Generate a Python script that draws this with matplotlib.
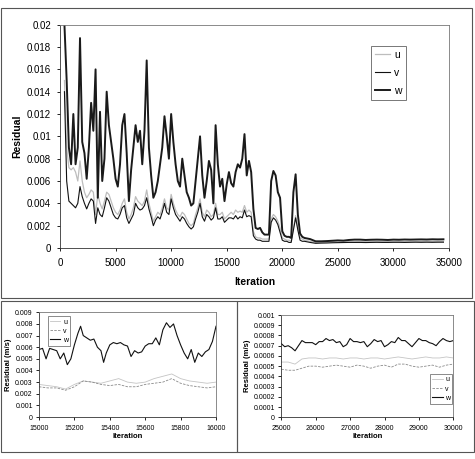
import matplotlib
matplotlib.use("Agg")
import matplotlib.pyplot as plt
from matplotlib.patches import Rectangle

# ---------------- top panel data ----------------
iter_top = list(range(400, 22001, 200)) + list(range(22500, 34501, 500))

w_top = [0.0200, 0.0150, 0.0090, 0.0075, 0.0120, 0.0075, 0.0090, 0.0188, 0.0095, 0.0085,
         0.0062, 0.0090, 0.0130, 0.0105, 0.0160, 0.0045, 0.0122, 0.0060, 0.0080, 0.0140,
         0.0110, 0.0095, 0.0080, 0.0062, 0.0055, 0.0075, 0.0110, 0.0120, 0.0085, 0.0042,
         0.0070, 0.0090, 0.0110, 0.0095, 0.0105, 0.0075, 0.0105, 0.0168, 0.0090, 0.0065,
         0.0045, 0.0050, 0.0060, 0.0075, 0.0090, 0.0118, 0.0100, 0.0080, 0.0120, 0.0095,
         0.0075, 0.0060, 0.0055, 0.0080, 0.0065, 0.0050, 0.0045, 0.0038, 0.0040, 0.0060,
         0.0080, 0.0100, 0.0065, 0.0045, 0.0060, 0.0078, 0.0070, 0.0040, 0.0110, 0.0075,
         0.0055, 0.0062, 0.0042, 0.0057, 0.0068, 0.0058, 0.0055, 0.0068, 0.0075, 0.0072,
         0.0080, 0.0102, 0.0065, 0.0078, 0.0068, 0.0035, 0.0018, 0.0017, 0.0018, 0.0014,
         0.0012, 0.0012, 0.0012, 0.0060, 0.0069, 0.0065, 0.0050, 0.0045, 0.0015, 0.0011,
         0.0010, 0.0010, 0.0009, 0.0050, 0.0066, 0.0030, 0.0013, 0.0010, 0.0009,
         0.00080, 0.00060, 0.00060, 0.00062, 0.00065, 0.00068, 0.00066, 0.00072, 0.00075,
         0.00075, 0.00072, 0.00074, 0.00075, 0.00074, 0.00072, 0.00075, 0.00074, 0.00076,
         0.00075, 0.00076, 0.00077, 0.00076, 0.00078, 0.00077, 0.00078]

u_top = [0.0150, 0.0090, 0.0072, 0.0070, 0.0072, 0.0068, 0.0060, 0.0078, 0.0060, 0.0050,
         0.0045, 0.0048, 0.0052, 0.0050, 0.0030, 0.0048, 0.0040, 0.0035, 0.0042, 0.0050,
         0.0048, 0.0042, 0.0036, 0.0032, 0.0030, 0.0034, 0.0040, 0.0044, 0.0032, 0.0026,
         0.0030, 0.0036, 0.0046, 0.0042, 0.0040, 0.0038, 0.0042, 0.0052, 0.0040, 0.0032,
         0.0024, 0.0028, 0.0032, 0.0030, 0.0036, 0.0044, 0.0036, 0.0034, 0.0048, 0.0040,
         0.0034, 0.0030, 0.0028, 0.0032, 0.0030, 0.0026, 0.0022, 0.0020, 0.0022, 0.0030,
         0.0036, 0.0044, 0.0032, 0.0028, 0.0034, 0.0032, 0.0028, 0.0030, 0.0040, 0.0030,
         0.0030, 0.0032, 0.0026, 0.0028, 0.0030, 0.0032, 0.0030, 0.0034, 0.0032, 0.0033,
         0.0032, 0.0038, 0.0032, 0.0034, 0.0032, 0.0015, 0.0010, 0.0009, 0.0009, 0.0008,
         0.0008, 0.0008, 0.0008, 0.0026, 0.0030, 0.0028, 0.0024, 0.0018, 0.0009, 0.0008,
         0.0007, 0.0007, 0.0006, 0.0018, 0.0029, 0.0018, 0.0009, 0.0008, 0.0007,
         0.00060, 0.00050, 0.00052, 0.00053, 0.00055, 0.00054, 0.00056, 0.00057, 0.00056,
         0.00058, 0.00057, 0.00058, 0.00058, 0.00057, 0.00058, 0.00058, 0.00059, 0.00058,
         0.00059, 0.00058, 0.00059, 0.00060, 0.00059, 0.00060, 0.00060]

v_top = [0.0140, 0.0060, 0.0042, 0.0040, 0.0038, 0.0036, 0.0040, 0.0055, 0.0046, 0.0040,
         0.0035, 0.0040, 0.0044, 0.0042, 0.0022, 0.0036, 0.0030, 0.0028, 0.0036, 0.0045,
         0.0042, 0.0036, 0.0030, 0.0027, 0.0026, 0.0030, 0.0036, 0.0038, 0.0027, 0.0022,
         0.0026, 0.0030, 0.0040, 0.0036, 0.0034, 0.0035, 0.0038, 0.0045, 0.0035, 0.0028,
         0.0020, 0.0025, 0.0028, 0.0026, 0.0032, 0.0040, 0.0032, 0.0030, 0.0044, 0.0036,
         0.0030, 0.0027, 0.0024, 0.0028, 0.0026, 0.0022, 0.0019, 0.0017, 0.0019, 0.0026,
         0.0032, 0.0040, 0.0028, 0.0024, 0.0030, 0.0028, 0.0025, 0.0027, 0.0036, 0.0026,
         0.0026, 0.0028, 0.0023, 0.0025, 0.0027, 0.0027, 0.0026, 0.0029, 0.0026, 0.0028,
         0.0027, 0.0034, 0.0028, 0.0029, 0.0028, 0.0011, 0.0008, 0.0007, 0.0007, 0.0006,
         0.0006, 0.0006, 0.0006, 0.0023, 0.0027, 0.0025, 0.0021, 0.0014, 0.0007, 0.0006,
         0.0006, 0.0005, 0.0005, 0.0016, 0.0027, 0.0016, 0.0007, 0.0006, 0.0006,
         0.00050, 0.00042, 0.00044, 0.00045, 0.00047, 0.00048, 0.00049, 0.00050, 0.00050,
         0.00050, 0.00049, 0.00050, 0.00051, 0.00050, 0.00050, 0.00051, 0.00051, 0.00050,
         0.00051, 0.00052, 0.00051, 0.00052, 0.00051, 0.00052, 0.00052]

# ---------------- bottom-left data (15000-16000) ----------------
iter_bl_w = [15000, 15020, 15040, 15060, 15080, 15100, 15120, 15140, 15160, 15180,
             15200, 15220, 15235, 15250, 15270, 15290, 15310, 15330, 15350, 15365,
             15380, 15400, 15420, 15440, 15460, 15480, 15500, 15520, 15540, 15560,
             15580, 15600, 15620, 15640, 15660, 15680, 15700, 15720, 15740, 15760,
             15780, 15800, 15820, 15840, 15860, 15880, 15900, 15920, 15940, 15960,
             15980, 16000]
w_bl = [0.0058, 0.0059, 0.0050, 0.0059, 0.0058, 0.0057, 0.0050, 0.0055, 0.0045, 0.0050,
        0.0062, 0.0072, 0.0078, 0.0070, 0.0068, 0.0066, 0.0067, 0.0060, 0.0057, 0.0047,
        0.0055, 0.0062, 0.0064, 0.0063, 0.0064, 0.0062, 0.0061, 0.0052, 0.0057, 0.0055,
        0.0056, 0.0061, 0.0063, 0.0063, 0.0068, 0.0062, 0.0075, 0.0081, 0.0077, 0.0080,
        0.0070, 0.0062, 0.0055, 0.0050, 0.0058, 0.0047, 0.0055, 0.0052, 0.0056, 0.0058,
        0.0065, 0.0078]
iter_bl_uv = [15000, 15050, 15100, 15150, 15200, 15250, 15300, 15350, 15400, 15450,
              15500, 15550, 15600, 15650, 15700, 15750, 15800, 15850, 15900, 15950, 16000]
u_bl = [0.0028, 0.0027, 0.0026, 0.0024, 0.0028, 0.0031, 0.0030, 0.0029, 0.0031, 0.0033,
        0.0030, 0.0029, 0.0030, 0.0033, 0.0035, 0.0037, 0.0033, 0.0031, 0.0030, 0.0029, 0.0030]
v_bl = [0.0026, 0.0025, 0.0025, 0.0023, 0.0026, 0.0031, 0.0030, 0.0028, 0.0027, 0.0028,
        0.0026, 0.0026, 0.0028, 0.0029, 0.0030, 0.0033, 0.0029, 0.0027, 0.0026, 0.0025, 0.0026]

# ---------------- bottom-right data (25000-30000) ----------------
iter_br_w = list(range(25000, 30001, 100))
w_br = [0.00072, 0.00069, 0.00070, 0.00068, 0.00065, 0.00070, 0.00075, 0.00073, 0.00073, 0.00073,
        0.00071, 0.00074, 0.00074, 0.00077, 0.00075, 0.00076, 0.00073, 0.00074, 0.00069, 0.00071,
        0.00077, 0.00074, 0.00074, 0.00073, 0.00074, 0.00069, 0.00072, 0.00076, 0.00074, 0.00075,
        0.00069, 0.00071, 0.00074, 0.00073, 0.00078, 0.00075, 0.00075, 0.00072, 0.00069, 0.00073,
        0.00077, 0.00075, 0.00075, 0.00073, 0.00072, 0.00070, 0.00074, 0.00077, 0.00075, 0.00074,
        0.00075]
iter_br_uv = list(range(25000, 30001, 200))
u_br = [0.00054, 0.00054, 0.00052, 0.00057, 0.00058, 0.00058, 0.00057, 0.00058, 0.00058, 0.00057,
        0.00058, 0.00058, 0.00057, 0.00058, 0.00058, 0.00057, 0.00058, 0.00059, 0.00058, 0.00057,
        0.00058, 0.00059, 0.00058, 0.00058, 0.00059, 0.00058]
v_br = [0.00047, 0.00046, 0.00046, 0.00048, 0.00050, 0.00050, 0.00049, 0.00050, 0.00051, 0.00050,
        0.00049, 0.00051, 0.00050, 0.00048, 0.00050, 0.00051, 0.00049, 0.00052, 0.00052, 0.00050,
        0.00049, 0.00050, 0.00051, 0.00049, 0.00051, 0.00052]

series_names = ["u", "v", "w"]

plt.rcParams["font.family"] = "Liberation Sans"

fig = plt.figure(figsize=(4.75, 4.59), dpi=100)

# panel frames
frame_kw = dict(fill=False, edgecolor="#555555", linewidth=0.8, transform=fig.transFigure)
fig.patches.append(Rectangle((0.002, 1 - 298 / 459), 0.992, (298 - 8) / 459, **frame_kw))
fig.patches.append(Rectangle((0.002, 1 - 452 / 459), 0.497, (452 - 301) / 459, **frame_kw))
fig.patches.append(Rectangle((0.499, 1 - 452 / 459), 0.499, (452 - 301) / 459, **frame_kw))


def style_axes(ax, fs, xpad, ypad, lw=0.6):
    for s in ax.spines.values():
        s.set_linewidth(lw)
        s.set_color("#333333")
    ax.spines["top"].set_color("#777777")
    ax.spines["right"].set_color("#777777")
    ax.tick_params(direction="out", length=2.5, width=0.6, labelsize=fs,
                   top=False, right=False)
    ax.tick_params(axis="x", pad=xpad)
    ax.tick_params(axis="y", pad=ypad)


# ---------------- top ----------------
ax = fig.add_axes([60 / 475, 1 - 248 / 459, (449 - 60) / 475, (248 - 24.7) / 459])
ax.plot(iter_top, u_top, color="#bdbdbd", lw=0.9, label=series_names[0])
ax.plot(iter_top, v_top, color="#111111", lw=0.8, label=series_names[1])
ax.plot(iter_top, w_top, color="#1a1a1a", lw=1.4, label=series_names[2])
ax.set_xlim(0, 35000)
ax.set_ylim(0, 0.02)
ax.set_xticks(range(0, 35001, 5000))
ax.set_yticks([i * 0.002 for i in range(11)])
ax.set_yticklabels(["0", "0.002", "0.004", "0.006", "0.008", "0.01", "0.012", "0.014",
                    "0.016", "0.018", "0.02"])
style_axes(ax, 7, 5, 4)
ax.set_xlabel("Iteration", fontsize=7.5, fontweight="bold", labelpad=6)
ax.set_ylabel("Residual", fontsize=7.5, fontweight="bold", labelpad=3)
leg = ax.legend(loc="upper left", bbox_to_anchor=(0.80, 0.905), fontsize=7.5, frameon=True,
                fancybox=False, edgecolor="#555555", handlelength=1.4, handletextpad=0.4,
                borderpad=0.4, labelspacing=0.75, borderaxespad=0)
leg.get_frame().set_linewidth(0.7)

# ---------------- bottom-left ----------------
ax2 = fig.add_axes([39 / 475, 1 - 417 / 459, (216 - 39) / 475, (417 - 312.3) / 459])
ax2.plot(iter_bl_uv, u_bl, color="#c4c4c4", lw=0.6, label=series_names[0])
ax2.plot(iter_bl_uv, v_bl, color="#8a8a8a", lw=0.6, ls=(0, (3, 1.5)), label=series_names[1])
ax2.plot(iter_bl_w, w_bl, color="#111111", lw=0.8, label=series_names[2])
ax2.set_xlim(15000, 16000)
ax2.set_ylim(0, 0.009)
ax2.set_xticks(range(15000, 16001, 200))
ax2.set_yticks([i * 0.001 for i in range(10)])
ax2.set_yticklabels(["0"] + ["%.3f" % (i * 0.001) for i in range(1, 10)])
style_axes(ax2, 5, 3, 2)
ax2.set_xlabel("Iteration", fontsize=5.5, fontweight="bold", labelpad=1)
ax2.set_ylabel("Residual (m/s)", fontsize=5.5, fontweight="bold", labelpad=2)
leg2 = ax2.legend(loc="upper left", bbox_to_anchor=(0.05, 0.96), fontsize=5, frameon=True,
                  fancybox=False, edgecolor="#555555", handlelength=1.5, handletextpad=0.4,
                  borderpad=0.3, labelspacing=0.3, borderaxespad=0)
leg2.get_frame().set_linewidth(0.6)

# ---------------- bottom-right ----------------
ax3 = fig.add_axes([281.3 / 475, 1 - 417.3 / 459, (453.3 - 281.3) / 475, (417.3 - 315) / 459])
ax3.plot(iter_br_uv, u_br, color="#c4c4c4", lw=0.6, label=series_names[0])
ax3.plot(iter_br_uv, v_br, color="#8a8a8a", lw=0.6, ls=(0, (3, 1.5)), label=series_names[1])
ax3.plot(iter_br_w, w_br, color="#111111", lw=0.8, label=series_names[2])
ax3.set_xlim(25000, 30000)
ax3.set_ylim(0, 0.001)
ax3.set_xticks(range(25000, 30001, 1000))
ax3.set_yticks([i * 0.0001 for i in range(11)])
ax3.set_yticklabels(["0"] + ["%.4f" % (i * 0.0001) for i in range(1, 10)] + ["0.001"])
style_axes(ax3, 5, 3, 2)
ax3.set_xlabel("Iteration", fontsize=5.5, fontweight="bold", labelpad=1)
ax3.set_ylabel("Residual (m/s)", fontsize=5.5, fontweight="bold", labelpad=2)
leg3 = ax3.legend(loc="upper right", bbox_to_anchor=(0.995, 0.42), fontsize=5, frameon=True,
                  fancybox=False, edgecolor="#555555", handlelength=1.5, handletextpad=0.4,
                  borderpad=0.3, labelspacing=0.3, borderaxespad=0)
leg3.get_frame().set_linewidth(0.6)

fig.savefig("out.png", dpi=100)
